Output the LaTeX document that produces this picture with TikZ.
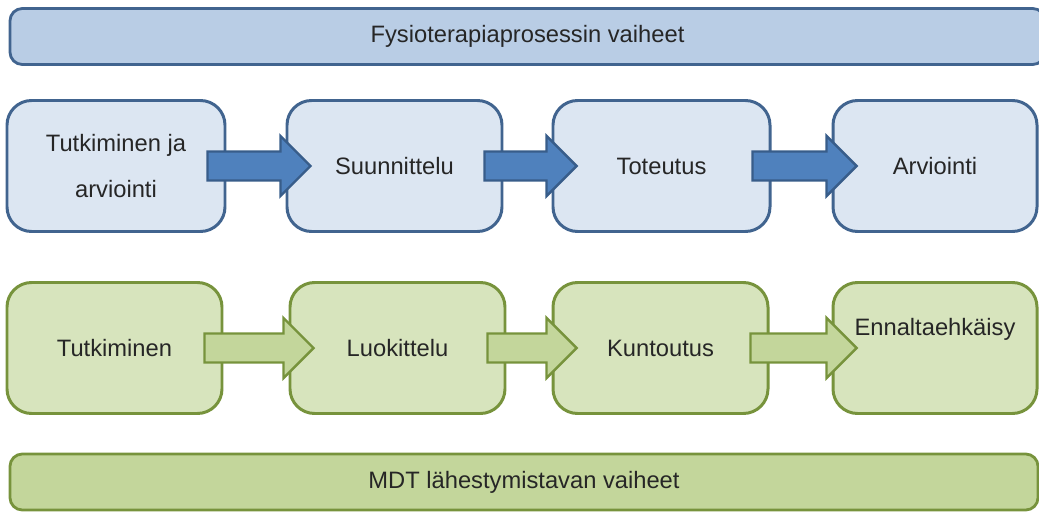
\documentclass[tikz,border=0pt]{standalone}
\usepackage{fontspec}
\setmainfont{Liberation Sans}
\usepackage{tikz}
\usetikzlibrary{calc}
\definecolor{barblue}{HTML}{B9CDE5}
\definecolor{boxblue}{HTML}{DCE6F2}
\definecolor{lineblue}{HTML}{41648F}
\definecolor{arrblue}{HTML}{4F81BD}
\definecolor{arrblueline}{HTML}{385D8A}
\definecolor{bargreen}{HTML}{C3D69B}
\definecolor{boxgreen}{HTML}{D7E4BD}
\definecolor{linegreen}{HTML}{77933C}
\definecolor{txt}{HTML}{262626}
\tikzset{
  BAR/.style={draw, rectangle, rounded corners=7pt, line width=1.6pt,
              minimum height=1.12cm, text=txt, inner sep=0pt},
  PB/.style={draw, rectangle, rounded corners=14pt, line width=1.7pt,
             minimum height=2.62cm, align=center, text=txt, inner sep=0pt},
  BA/.style={fill=arrblue, draw=arrblueline, line width=1.4pt, line join=miter},
  GA/.style={fill=bargreen, draw=linegreen, line width=1.4pt, line join=miter}
}

\begin{document}
\begin{tikzpicture}[font=\fontsize{13.5}{26}\selectfont]
\useasboundingbox (0,0) rectangle (20.78,10.24);

% Header bars
\node[BAR, fill=barblue, draw=lineblue, minimum width=20.70cm] (FYS) at (10.55, 9.51)
    {Fysioterapiaprosessin vaiheet};
\node[BAR, fill=bargreen, draw=linegreen, minimum width=20.56cm] (MDT) at (10.48, 0.60)
    {MDT lähestymistavan vaiheet};

% Physiotherapy process -- blue row
\node[PB, fill=boxblue, draw=lineblue, minimum width=4.36cm] (B1) at (2.32, 6.92)
    {Tutkiminen ja\\arviointi};
\node[PB, fill=boxblue, draw=lineblue, minimum width=4.30cm] (B2) at (7.89, 6.92)
    {Suunnittelu};
\node[PB, fill=boxblue, draw=lineblue, minimum width=4.34cm] (B3) at (13.23, 6.92)
    {Toteutus};
\node[PB, fill=boxblue, draw=lineblue, minimum width=4.08cm] (B4) at (18.70, 6.92)
    {Arviointi};

% MDT approach -- green row
\node[PB, fill=boxgreen, draw=linegreen, minimum width=4.30cm] (G1) at (2.29, 3.28)
    {Tutkiminen};
\node[PB, fill=boxgreen, draw=linegreen, minimum width=4.30cm] (G2) at (7.95, 3.28)
    {Luokittelu};
\node[PB, fill=boxgreen, draw=linegreen, minimum width=4.30cm] (G3) at (13.21, 3.28)
    {Kuntoutus};
\node[PB, fill=boxgreen, draw=linegreen, minimum width=4.08cm, text depth=0.85cm] (G4) at (18.70, 3.28)
    {Ennaltaehkäisy};

% -- Block arrows between phases --
\foreach \a/\b/\s in {B1/B2/BA, B2/B3/BA, B3/B4/BA, G1/G2/GA, G2/G3/GA, G3/G4/GA}
  \draw[\s] ($(\a.east)+(-0.38,0.29)$) -- ($(\b.west)+(-0.10,0.29)$)
         -- ($(\b.west)+(-0.10,0.60)$) -- ($(\b.west)+(0.50,0)$)
         -- ($(\b.west)+(-0.10,-0.60)$) -- ($(\b.west)+(-0.10,-0.29)$)
         -- ($(\a.east)+(-0.38,-0.29)$) -- cycle;

\end{tikzpicture}
\end{document}
